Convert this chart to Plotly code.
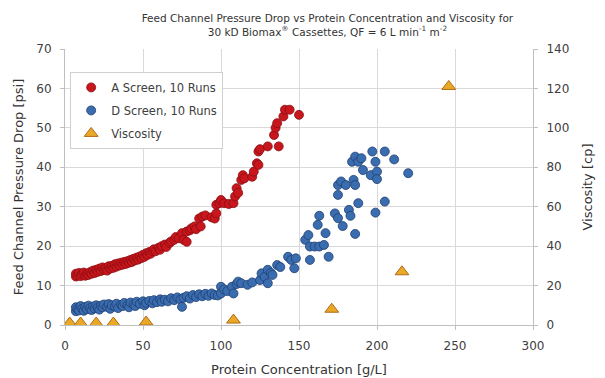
import plotly.graph_objects as go

# A Screen, 10 Runs (protein g/L, pressure drop psi)
a_x = [7, 7, 8, 9, 10, 11, 12, 13, 14, 15, 16, 17, 18, 19, 20, 21, 22, 23, 24, 25,
       26, 27, 28, 29, 30, 31, 32, 33, 34, 35, 36, 37, 38, 39, 40, 41, 42, 43, 44, 45,
       46, 47, 48, 49, 50, 51, 52, 53, 54, 55, 56, 57, 58, 60, 61, 62, 64, 65, 67, 68,
       70, 71, 73, 75, 76, 78, 78, 80, 81, 83, 84, 86, 87, 88, 90, 94, 96, 97, 97, 99,
       100, 102, 105, 108, 109, 110, 111, 113, 114, 115, 120, 121, 123, 124, 124, 125,
       130, 134, 135, 136, 137, 140, 141, 144, 150]
a_y = [12.3, 13.0, 12.6, 13.2, 12.4, 12.9, 13.3, 12.5, 13.0, 12.7, 13.4, 13.0, 13.8, 13.2,
       14.0, 13.5, 14.3, 13.7, 14.6, 14.0, 14.4, 13.8, 14.9, 14.3, 15.0, 14.5, 15.4, 14.8,
       15.6, 15.1, 15.8, 15.3, 16.0, 15.5, 16.2, 15.8, 16.5, 16.0, 16.8, 16.4, 17.1, 16.6,
       17.4, 17.0, 17.8, 17.3, 18.2, 17.8, 18.5, 18.1, 18.8, 19.2, 18.7, 19.6, 19.1, 20.0,
       20.4, 19.8, 20.8, 21.2, 21.6, 22.3, 22.0, 23.3, 21.6, 21.1, 23.7, 24.0, 24.5, 25.0,
       24.3, 27.0, 25.0, 27.5, 27.8, 27.3, 27.0, 28.3, 30.5, 30.9, 31.7, 30.9, 30.7, 30.9,
       32.6, 34.7, 33.5, 36.8, 38.0, 37.2, 37.6, 38.9, 41.0, 40.6, 44.0, 44.6, 45.3, 48.2,
       50.0, 51.2, 45.3, 52.9, 54.6, 54.6, 53.3]

# D Screen, 10 Runs
d_x = [7, 7, 8, 9, 10, 11, 12, 13, 14, 15, 16, 17, 18, 19, 20, 21, 22, 23, 24, 25,
       27, 28, 29, 30, 32, 33, 34, 36, 37, 38, 40, 41, 42, 44, 45, 46, 48, 50, 51, 52,
       54, 56, 57, 59, 61, 62, 64, 66, 68, 70, 72, 74, 75, 76, 78, 80, 82, 84, 86, 88,
       90, 92, 94, 96, 98, 100, 100, 102, 104, 107, 108, 110, 111, 113, 117, 120, 125, 126,
       128, 130, 130, 132, 133, 136, 138, 143, 145, 147, 148, 154, 156, 157, 157, 160,
       162, 163, 163, 166, 167, 169, 173, 175, 175, 175, 177, 178, 180, 182, 183, 184,
       185, 186, 186, 186, 188, 188, 190, 191, 196, 197, 199, 199, 200, 200, 205, 205,
       211, 220]
d_y = [3.5, 4.5, 4.0, 3.7, 4.8, 4.1, 3.6, 4.6, 4.0, 4.9, 4.3, 3.8, 4.7, 4.2, 5.0, 4.4,
       3.9, 4.9, 4.5, 5.2, 4.6, 5.3, 4.1, 5.0, 4.7, 5.4, 4.3, 5.1, 4.8, 5.6, 5.0, 4.5, 5.7,
       5.2, 4.8, 5.9, 5.4, 6.0, 5.0, 5.6, 6.1, 5.5, 6.3, 5.8, 6.5, 5.9, 6.4, 6.0, 6.8, 6.3,
       7.0, 6.5, 4.6, 6.9, 7.3, 6.7, 7.6, 7.1, 7.8, 7.3, 7.9, 7.4, 8.0, 7.6, 7.5, 9.7, 8.0,
       9.0, 8.6, 9.7, 8.0, 10.4, 11.0, 10.6, 10.2, 10.8, 11.4, 13.1, 12.2, 14.0, 10.6, 13.2,
       12.7, 15.2, 14.7, 17.3, 16.5, 14.4, 16.9, 21.6, 22.8, 19.9, 16.5, 19.9, 25.4, 27.7,
       19.9, 20.3, 23.3, 17.3, 28.3, 27.1, 33.0, 35.5, 36.4, 25.1, 35.5, 29.2, 27.7, 41.4,
       36.8, 35.5, 42.7, 23.1, 30.9, 41.4, 42.3, 39.3, 38.0, 44.0, 28.5, 41.4, 38.9, 37.0,
       44.0, 31.3, 42.0, 38.5]

# Viscosity (cp)
v_x = [3, 10, 20, 31, 52, 108, 171, 216, 246]
v_y = [1, 1, 1, 1, 1.5, 2.5, 8, 27, 121]

FONT = "DejaVu Sans"
GRID = "#d9d9d9"
AXLINE = "#bfbfbf"

fig = go.Figure()
fig.add_trace(go.Scatter(
    x=a_x, y=a_y, mode="markers", name="A Screen, 10 Runs", legendgroup="a",
    marker=dict(size=9, color="#c8161d", line=dict(color="#8a0d12", width=0.8)),
))
fig.add_trace(go.Scatter(
    x=d_x, y=d_y, mode="markers", name="D Screen, 10 Runs", legendgroup="d",
    marker=dict(size=9, color="#3a6cb0", line=dict(color="#1f3f70", width=0.8)),
))
fig.add_trace(go.Scatter(
    x=v_x, y=v_y, mode="markers", name="Viscosity", legendgroup="v", yaxis="y2",
    marker=dict(symbol="triangle-up", size=12, color="#e9a825",
                line=dict(color="#b06a1a", width=1)),
))

fig.update_layout(
    width=597, height=370,
    margin=dict(l=57, r=72, t=41, b=53, autoexpand=False),
    paper_bgcolor="white", plot_bgcolor="white",
    font=dict(family=FONT, color="#404040", size=12),
    title=dict(
        text="Feed Channel Pressure Drop vs Protein Concentration and Viscosity for<br>"
             "30 kD Biomax<sup>®</sup> Cassettes, QF = 6 L min<sup>-1</sup> m<sup>-2</sup>",
        x=0.535, xanchor="center", y=0.962, yanchor="top",
        font=dict(family=FONT, size=10.5, color="#333333"),
    ),
    xaxis=dict(
        range=[0, 300], dtick=50, tick0=0, automargin=False,
        showgrid=True, gridcolor=GRID, gridwidth=1,
        showline=True, linecolor=AXLINE, linewidth=1,
        ticks="outside", ticklen=4, tickcolor=AXLINE, ticklabelstandoff=6,
        zeroline=False,
        title=dict(text="Protein Concentration [g/L]", font=dict(size=13, color="#333333"), standoff=12),
        tickfont=dict(size=12, color="#404040"),
    ),
    yaxis=dict(
        range=[0, 70], dtick=10, tick0=0, automargin=False,
        showgrid=True, gridcolor=GRID, gridwidth=1,
        showline=True, linecolor=AXLINE, linewidth=1,
        ticks="outside", ticklen=4, tickcolor=AXLINE, ticklabelstandoff=6,
        zeroline=False,
        title=dict(text="Feed Channel Pressure Drop [psi]", font=dict(size=13, color="#333333"), standoff=9),
        tickfont=dict(size=12, color="#404040"),
    ),
    yaxis2=dict(
        range=[0, 140], dtick=20, tick0=0, automargin=False,
        overlaying="y", side="right",
        showgrid=False, zeroline=False,
        showline=True, linecolor=AXLINE, linewidth=1,
        ticks="outside", ticklen=4, tickcolor=AXLINE, ticklabelstandoff=6,
        title=dict(text="Viscosity [cp]", font=dict(size=13, color="#333333"), standoff=14),
        tickfont=dict(size=12, color="#404040"),
    ),
    legend=dict(
        x=0.011, y=0.917, xanchor="left", yanchor="top",
        bgcolor="white", bordercolor="#cfcfcf", borderwidth=1,
        font=dict(family=FONT, size=11.5, color="#404040"),
        traceorder="grouped", tracegroupgap=4,
        itemwidth=30,
    ),
)

fig.write_html("out.html")
